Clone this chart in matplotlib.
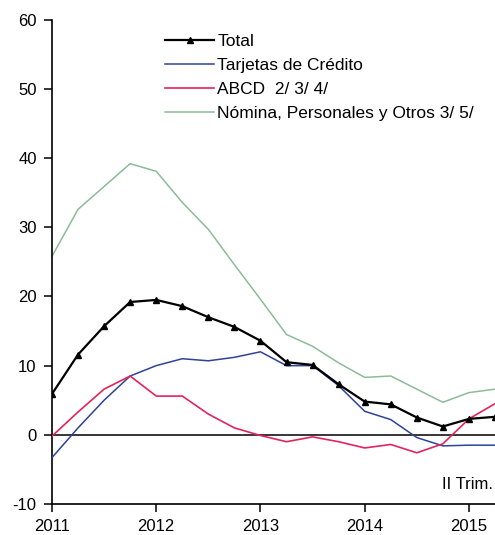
import numpy as np
import matplotlib
matplotlib.use("Agg")
import matplotlib.pyplot as plt

plt.rcParams['font.family'] = ['Liberation Sans', 'DejaVu Sans']
plt.rcParams['axes.unicode_minus'] = False

# trimestres I-2011 .. II-2015
trimestres = np.arange(2011.0, 2015.26, 0.25)

total = [5.9, 11.6, 15.7, 19.2, 19.5, 18.6, 17.0, 15.6, 13.6,
         10.5, 10.1, 7.3, 4.8, 4.4, 2.5, 1.2, 2.3, 2.6]
tarjetas = [-3.3, 1.0, 5.0, 8.5, 10.0, 11.0, 10.7, 11.2, 12.0,
            10.0, 10.0, 7.1, 3.4, 2.2, -0.4, -1.6, -1.5, -1.5]
abcd = [-0.2, 3.3, 6.6, 8.5, 5.6, 5.6, 3.0, 1.0, -0.1,
        -1.0, -0.3, -1.0, -1.9, -1.4, -2.6, -1.3, 2.3, 4.5]
nomina = [25.8, 32.6, 35.9, 39.2, 38.1, 33.6, 29.7, 24.6, 19.6,
          14.5, 12.8, 10.4, 8.3, 8.5, 6.6, 4.7, 6.1, 6.6]

etiquetas = ['Total', 'Tarjetas de Crédito', 'ABCD  2/ 3/ 4/',
             'Nómina, Personales y Otros 3/ 5/']

fig = plt.figure(figsize=(4.95, 5.35), dpi=100)
ax = fig.add_axes([0.105, 0.058, 0.895, 0.905])

ax.axhline(0, color='black', lw=1.1, zorder=1)
ax.plot(trimestres, total, color='black', lw=1.6, marker='^', ms=5, label=etiquetas[0], zorder=5)
ax.plot(trimestres, tarjetas, color='#2E4396', lw=1.1, label=etiquetas[1], zorder=3)
ax.plot(trimestres, abcd, color='#E3245C', lw=1.2, label=etiquetas[2], zorder=4)
ax.plot(trimestres, nomina, color='#8DBB97', lw=1.1, label=etiquetas[3], zorder=2)

ax.set_xlim(2011, 2015.25)
ax.set_ylim(-10, 60)
ax.set_yticks(range(-10, 61, 10))
ax.set_xticks([2011, 2012, 2013, 2014, 2015])
ax.set_xticklabels(['2011', '2012', '2013', '2014', '2015'])
ax.tick_params(direction='out', length=6, width=1.1, labelsize=12, color='black')
ax.tick_params(axis='y', pad=5)
ax.tick_params(axis='x', pad=5)
for s in ['top', 'right']:
    ax.spines[s].set_visible(False)
for s in ['left', 'bottom']:
    ax.spines[s].set_linewidth(1.2)

ax.text(0.995, 0.025, 'II Trim.', transform=ax.transAxes, ha='right', va='bottom', fontsize=12)

ax.legend(loc='upper left', bbox_to_anchor=(0.24, 0.985), frameon=False, fontsize=12.5,
          handlelength=2.8, handletextpad=0.2, labelspacing=0.5, borderaxespad=0)

fig.savefig('out.png', dpi=100)
